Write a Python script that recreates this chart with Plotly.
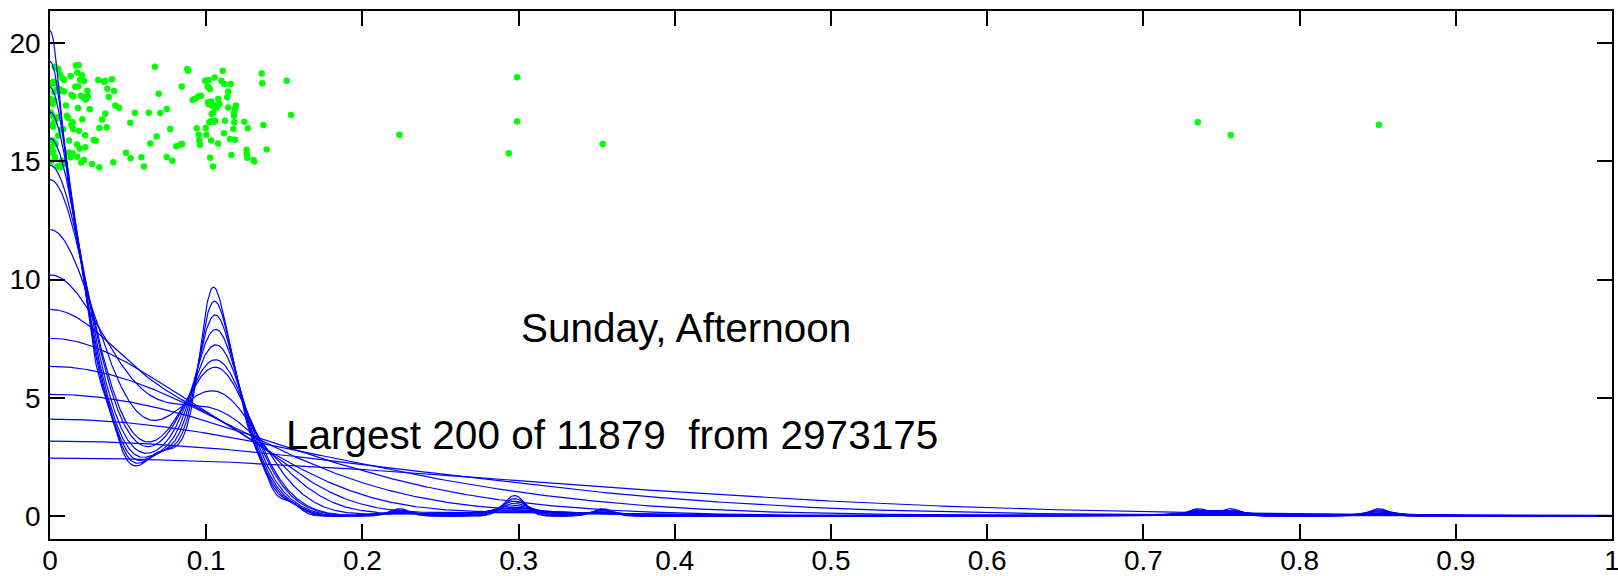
import numpy as np
import plotly.graph_objects as go

pts_x = [
    0.0004, 0.0013, 0.0021, 0.0032, 0.0004, 0.0011, 0.0017, 0.0028, 0.0043, 0.0058,
    0.0053, 0.0064, 0.0079, 0.0090, 0.0077, 0.0090, 0.0004, 0.0011, 0.0021, 0.0028,
    0.0038, 0.0047, 0.0017, 0.0006, 0.0011, 0.0021, 0.0004, 0.0032, 0.0049, 0.0068,
    0.0075, 0.0092, 0.0053, 0.0070, 0.0085, 0.0107, 0.0117, 0.0102, 0.0122, 0.0132,
    0.0120, 0.0137, 0.0145, 0.0149, 0.0137, 0.0149, 0.0132, 0.0166, 0.0184, 0.0175,
    0.0205, 0.0192, 0.0218, 0.0162, 0.0181, 0.0198, 0.0213, 0.0229, 0.0241, 0.0239,
    0.0179, 0.0207, 0.0184, 0.0173, 0.0175, 0.0200, 0.0218, 0.0226, 0.0145, 0.0269,
    0.0294, 0.0316, 0.0309, 0.0346, 0.0354, 0.0397, 0.0367, 0.0410, 0.0376, 0.0418,
    0.0442, 0.0354, 0.0333, 0.0316, 0.0363, 0.0405, 0.0487, 0.0516, 0.0514, 0.0544,
    0.0585, 0.0602, 0.0632, 0.0642, 0.0672, 0.0683, 0.0696, 0.0706, 0.0747, 0.0747,
    0.0770, 0.0783, 0.0809, 0.0837, 0.0843, 0.0879, 0.0913, 0.0930, 0.0939, 0.0952,
    0.0956, 0.0883, 0.0845, 0.0949, 0.0967, 0.0994, 0.1016, 0.1054, 0.1106, 0.1097,
    0.1116, 0.1157, 0.1010, 0.1024, 0.1141, 0.1135, 0.1012, 0.1031, 0.1035, 0.1016,
    0.1077, 0.1084, 0.1067, 0.1054, 0.1191, 0.1184, 0.1178, 0.1178, 0.1141, 0.1035,
    0.1045, 0.1020, 0.1035, 0.1052, 0.1058, 0.1120, 0.1180, 0.0997, 0.1001, 0.1114,
    0.0960, 0.1031, 0.1076, 0.1152, 0.1184, 0.1026, 0.1044, 0.1161, 0.1355, 0.1359,
    0.1515, 0.1543, 0.1244, 0.1174, 0.1266, 0.1366, 0.1387, 0.1259, 0.1259, 0.1263,
    0.1302, 0.1308, 0.2237, 0.2937, 0.2990, 0.2990, 0.3538, 0.7348, 0.7559, 0.8508,
    0.0015, 0.0025, 0.0035, 0.0030, 0.0190, 0.0225, 0.0255, 0.0280,
]
pts_y = [
    18.27, 18.30, 18.37, 18.31, 17.64, 17.50, 17.43, 17.57, 18.02, 18.06,
    18.91, 18.67, 18.53, 18.44, 17.99, 17.96, 17.07, 16.55, 16.47, 16.65,
    16.79, 16.86, 15.88, 15.60, 15.38, 15.41, 14.96, 15.17, 14.79, 14.75,
    15.03, 14.89, 16.09, 16.33, 16.37, 16.93, 16.84, 17.36, 15.88, 15.17,
    15.38, 16.55, 16.65, 16.37, 17.82, 17.74, 18.61, 19.05, 19.07, 18.76,
    18.64, 18.44, 18.41, 18.16, 18.17, 17.78, 17.71, 17.62, 17.75, 17.99,
    17.26, 16.78, 16.30, 15.71, 15.20, 14.95, 15.06, 15.60, 15.34, 14.89,
    15.87, 14.75, 18.44, 18.37, 18.41, 18.47, 18.07, 17.98, 17.72, 17.36,
    17.27, 17.01, 16.77, 16.41, 16.44, 14.96, 15.37, 15.13, 16.63, 17.05,
    15.17, 14.78, 17.06, 15.76, 19.00, 16.05, 17.86, 17.05, 17.22, 15.19,
    16.37, 15.03, 15.64, 15.71, 18.17, 18.91, 17.60, 17.65, 16.40, 16.13,
    15.88, 18.83, 15.73, 17.74, 17.78, 18.41, 18.44, 18.55, 18.83, 18.41,
    18.27, 18.27, 18.16, 18.06, 17.96, 17.71, 17.50, 17.53, 17.36, 17.43,
    17.64, 17.43, 17.28, 17.36, 17.36, 17.22, 17.07, 16.93, 17.28, 17.00,
    17.07, 16.65, 16.72, 16.68, 16.72, 16.72, 16.65, 16.41, 16.13, 16.19,
    15.70, 15.88, 15.76, 15.95, 15.91, 15.15, 14.78, 15.27, 18.72, 18.30,
    18.41, 16.96, 16.68, 16.37, 16.40, 16.54, 15.50, 15.49, 15.32, 15.15,
    15.06, 15.00, 16.13, 15.34, 16.69, 18.56, 15.73, 16.65, 16.12, 16.55,
    16.95, 17.95, 15.75, 19.00, 15.55, 16.10, 17.20, 15.90,
]

n_total = 200
# kernel widths of the six narrowest curves
narrow_bandwidths = [0.0064, 0.0077, 0.0092, 0.0110, 0.0133, 0.0160]
# height at x = 0 of the remaining (wider) curves
wide_curve_start = [14.23, 12.12, 10.2, 8.74, 7.52, 6.33, 5.15, 4.1, 3.17, 2.45]

x_ticks = [0, 0.1, 0.2, 0.3, 0.4, 0.5, 0.6, 0.7, 0.8, 0.9, 1]
y_ticks = [0, 5, 10, 15, 20]
title_text = "Sunday, Afternoon"
info_text = "Largest 200 of 11879\u00a0 from 2973175"

xs = np.array(pts_x)
SQ2PI = np.sqrt(2 * np.pi)


def density(xv, h):
    d = (xv[:, None] - xs[None, :]) / h
    r = (xv[:, None] + xs[None, :]) / h
    return (np.exp(-0.5 * d ** 2) + np.exp(-0.5 * r ** 2)).sum(axis=1) / (n_total * h * SQ2PI)


def solve_bw(target, lo=0.012, hi=1.0):
    for _ in range(80):
        mid = np.sqrt(lo * hi)
        if density(np.array([0.0]), mid)[0] > target:
            lo = mid
        else:
            hi = mid
    return np.sqrt(lo * hi)


bandwidths = narrow_bandwidths + [solve_bw(t) for t in wide_curve_start]

grid = np.linspace(0, 1, 2001)

fig = go.Figure()
fig.add_trace(go.Scatter(x=pts_x, y=pts_y, mode="markers",
                         marker=dict(color="#00ff00", size=6.5, line=dict(width=0)),
                         showlegend=False, hoverinfo="skip"))

for h in bandwidths:
    fig.add_trace(go.Scatter(x=grid, y=density(grid, h), mode="lines",
                             line=dict(color="#0000ff", width=1.2),
                             showlegend=False, hoverinfo="skip"))

fnt = "Liberation Sans, Arial, sans-serif"
fig.add_annotation(x=0.3, y=7.95, xref="x", yref="y", text=title_text, showarrow=False,
                   xanchor="left", yanchor="middle",
                   font=dict(family=fnt, size=40.5, color="black"))
fig.add_annotation(x=0.15, y=3.42, xref="x", yref="y", text=info_text, showarrow=False,
                   xanchor="left", yanchor="middle",
                   font=dict(family=fnt, size=40.5, color="black"))

axis_common = dict(showline=True, linecolor="black", linewidth=1.5, mirror="ticks",
                   ticks="inside", ticklen=15, tickwidth=1.5, tickcolor="black",
                   showgrid=False, zeroline=False, automargin=False,
                   ticklabeloverflow="allow",
                   tickfont=dict(family=fnt, size=28, color="black"))

fig.update_xaxes(range=[0, 1], tickvals=x_ticks, ticktext=[f"{v:g}" for v in x_ticks],
                 ticklabelstandoff=-4, **axis_common)
fig.update_yaxes(range=[-0.97, 21.36], tickvals=y_ticks, ticktext=[str(v) for v in y_ticks],
                 ticklabelstandoff=2, **axis_common)

fig.update_layout(width=1618, height=576, margin=dict(l=50, r=6, t=11, b=37),
                  plot_bgcolor="white", paper_bgcolor="white")

fig.write_html("out.html", config={"displayModeBar": False},
               post_script="document.body.style.margin='0';document.body.style.padding='0';"
                           "document.body.style.overflow='hidden';")
